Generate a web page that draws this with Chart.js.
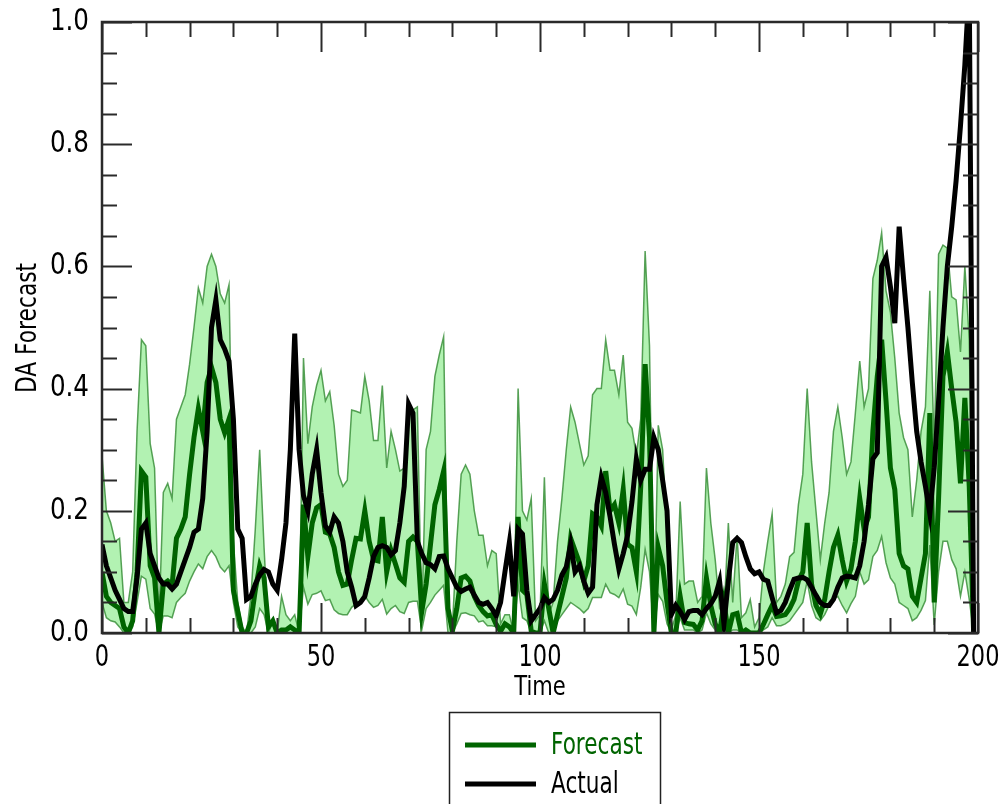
<!DOCTYPE html>
<html>
<head>
<meta charset="utf-8">
<script src="https://cdn.jsdelivr.net/npm/chart.js@4.4.1/dist/chart.umd.min.js"></script>
<style>
  html, body { margin: 0; padding: 0; background: #ffffff; }
  #wrap { width: 1000px; height: 804px; position: relative; }
</style>
</head>
<body>
<div id="wrap"><canvas id="chart" width="1000" height="804"></canvas></div>
<script>
// Time index of the series (0 … 199)
const timeSteps = Array.from({ length: 200 }, (_, i) => i);

// Observed DA values
const actual = [
  0.145, 0.11, 0.09, 0.07, 0.055, 0.04, 0.035, 0.035, 0.09, 0.17,
  0.18, 0.13, 0.11, 0.09, 0.08, 0.08, 0.072, 0.08, 0.1, 0.12,
  0.14, 0.165, 0.17, 0.22, 0.33, 0.5, 0.545, 0.48, 0.465, 0.445,
  0.35, 0.17, 0.155, 0.055, 0.06, 0.08, 0.095, 0.104, 0.1, 0.08,
  0.07, 0.12, 0.18, 0.3, 0.49, 0.3, 0.225, 0.2, 0.26, 0.3,
  0.23, 0.175, 0.165, 0.19, 0.18, 0.15, 0.1, 0.075, 0.045, 0.05,
  0.06, 0.09, 0.125, 0.14, 0.143, 0.14, 0.128, 0.135, 0.18, 0.24,
  0.375, 0.36, 0.15, 0.13, 0.115, 0.112, 0.105, 0.125, 0.126, 0.105,
  0.09, 0.075, 0.068, 0.072, 0.075, 0.062, 0.05, 0.047, 0.05, 0.04,
  0.028, 0.05, 0.1, 0.148, 0.06, 0.17, 0.162, 0.07, 0.02, 0.03,
  0.04, 0.058, 0.05, 0.055, 0.07, 0.095, 0.108, 0.145, 0.1, 0.11,
  0.085, 0.065, 0.075, 0.21, 0.255, 0.23, 0.19, 0.145, 0.105, 0.13,
  0.16, 0.215, 0.285, 0.25, 0.268, 0.268, 0.32, 0.3, 0.25, 0.2,
  0.03, 0.045, 0.035, 0.022, 0.035, 0.037, 0.037, 0.03, 0.04, 0.048,
  0.06, 0.085, 0.015, 0.085, 0.148, 0.155, 0.148, 0.125, 0.105, 0.097,
  0.1, 0.088, 0.085, 0.058, 0.033, 0.037, 0.05, 0.07, 0.088, 0.09,
  0.091, 0.087, 0.075, 0.062, 0.05, 0.045, 0.045, 0.055, 0.075, 0.09,
  0.093, 0.092, 0.09, 0.11, 0.15, 0.21, 0.285, 0.295, 0.6, 0.615,
  0.567, 0.507, 0.665, 0.58, 0.5, 0.41, 0.33, 0.28, 0.24, 0.195,
  0.27, 0.38, 0.5, 0.6, 0.665, 0.74, 0.83, 0.93, 1.06, 0.0
];

// Ensemble-mean forecast
const forecast = [
  0.1, 0.06, 0.05, 0.045, 0.04, 0.01, 0.0, 0.02, 0.1, 0.265,
  0.255, 0.11, 0.09, 0.0, 0.08, 0.085, 0.078, 0.155, 0.17, 0.19,
  0.26, 0.32, 0.367, 0.33, 0.41, 0.435, 0.41, 0.35, 0.328, 0.35,
  0.07, 0.035, 0.0, 0.0, 0.02, 0.07, 0.11, 0.09, 0.01, 0.02,
  0.0, 0.005, 0.005, 0.01, 0.005, 0.0, 0.21, 0.125, 0.18, 0.205,
  0.21, 0.165, 0.162, 0.14, 0.1, 0.078, 0.08, 0.12, 0.155, 0.154,
  0.2, 0.15, 0.12, 0.118, 0.19, 0.1, 0.135, 0.113, 0.09, 0.083,
  0.15, 0.157, 0.15, 0.035, 0.08, 0.145, 0.21, 0.235, 0.265, 0.04,
  0.003, 0.04, 0.09, 0.093, 0.085, 0.06, 0.045, 0.035, 0.028, 0.03,
  0.014, 0.003, 0.015, 0.01, 0.0, 0.19, 0.07, 0.063, 0.003, 0.0,
  0.0, 0.08, 0.04, 0.0, 0.03, 0.06, 0.09, 0.155, 0.135, 0.115,
  0.085, 0.11, 0.195, 0.19, 0.175, 0.265, 0.2, 0.21, 0.18, 0.235,
  0.145, 0.14, 0.1, 0.24, 0.44, 0.32, 0.0, 0.14, 0.11, 0.05,
  0.0, 0.0, 0.06, 0.017, 0.015, 0.014, 0.005, 0.02, 0.09, 0.045,
  0.015, 0.0, 0.05, 0.0, 0.03, 0.032, 0.0, 0.005, 0.0, 0.0,
  0.0, 0.014, 0.03, 0.045, 0.027, 0.028, 0.03, 0.04, 0.055, 0.085,
  0.1, 0.18, 0.08, 0.045, 0.031, 0.055, 0.1, 0.14, 0.16, 0.12,
  0.085, 0.105, 0.15, 0.22, 0.17, 0.19, 0.33, 0.42, 0.48, 0.38,
  0.27, 0.235, 0.13, 0.11, 0.105, 0.06, 0.05, 0.09, 0.13, 0.36,
  0.05, 0.22, 0.42, 0.46, 0.4, 0.345, 0.245, 0.385, 0.24, 0.0
];

// Upper edge of the forecast spread
const upper = [
  0.29, 0.2, 0.18, 0.15, 0.155, 0.05, 0.05, 0.1, 0.33, 0.48,
  0.47, 0.31, 0.27, 0.02, 0.23, 0.245, 0.22, 0.35, 0.37, 0.39,
  0.44, 0.5, 0.565, 0.54, 0.6, 0.62, 0.6, 0.555, 0.54, 0.57,
  0.15, 0.05, 0.01, 0.0, 0.06, 0.17, 0.3, 0.14, 0.0, 0.02,
  0.0, 0.06, 0.03, 0.02, 0.03, 0.0, 0.45, 0.31, 0.37, 0.405,
  0.43, 0.38, 0.395, 0.34, 0.26, 0.24, 0.25, 0.365, 0.363, 0.36,
  0.42, 0.38, 0.315, 0.315, 0.405, 0.27, 0.33, 0.3, 0.265, 0.27,
  0.365, 0.365, 0.37, 0.02, 0.3, 0.33, 0.42, 0.455, 0.485, 0.03,
  0.01, 0.15, 0.26, 0.275, 0.26, 0.2, 0.16, 0.16, 0.11, 0.135,
  0.13, 0.015, 0.03, 0.03, 0.0, 0.4, 0.2, 0.185, 0.22, 0.02,
  0.03, 0.255, 0.03, 0.05, 0.15, 0.22, 0.3, 0.37, 0.345, 0.31,
  0.275, 0.29, 0.39, 0.4, 0.4, 0.48, 0.43, 0.43, 0.39, 0.455,
  0.345, 0.335, 0.29, 0.35, 0.625, 0.47, 0.0, 0.34, 0.3, 0.16,
  0.005, 0.03, 0.215, 0.08, 0.085, 0.085, 0.05, 0.06, 0.27, 0.18,
  0.12, 0.04, 0.03, 0.18, 0.05, 0.16, 0.025, 0.033, 0.055, 0.01,
  0.025, 0.1, 0.15, 0.195, 0.05, 0.06, 0.08, 0.125, 0.132, 0.21,
  0.26, 0.4, 0.28, 0.2, 0.12, 0.18, 0.23, 0.33, 0.37, 0.32,
  0.26, 0.28, 0.36, 0.445, 0.37, 0.4, 0.58, 0.61, 0.655, 0.56,
  0.525, 0.45, 0.36, 0.32, 0.3, 0.19, 0.25, 0.33, 0.37, 0.56,
  0.3, 0.62, 0.635, 0.63, 0.55, 0.545, 0.46, 0.6, 0.48, 0.06
];

// Lower edge of the forecast spread
const lower = [
  0.05, 0.025, 0.02, 0.018, 0.01, 0.0, 0.0, 0.01, 0.05, 0.093,
  0.088, 0.04, 0.031, 0.0, 0.028, 0.028, 0.025, 0.05, 0.058, 0.065,
  0.085, 0.1, 0.113, 0.105, 0.125, 0.135, 0.125, 0.108, 0.1, 0.11,
  0.05, 0.01, 0.0, 0.0, 0.0, 0.01, 0.04, 0.03, 0.0, 0.0,
  0.0, 0.0, 0.0, 0.0, 0.0, 0.0, 0.075, 0.047, 0.063, 0.065,
  0.069, 0.053, 0.055, 0.038, 0.032, 0.03, 0.03, 0.042, 0.048, 0.05,
  0.061, 0.05, 0.042, 0.045, 0.055, 0.031, 0.04, 0.045, 0.035, 0.032,
  0.05, 0.052, 0.052, 0.005, 0.04, 0.05, 0.062, 0.07, 0.078, 0.0,
  0.0, 0.015, 0.032, 0.033, 0.03, 0.028, 0.018, 0.02, 0.012, 0.012,
  0.01, 0.0, 0.0, 0.0, 0.0, 0.08, 0.025, 0.02, 0.0, 0.0,
  0.0, 0.02, 0.0, 0.0, 0.02, 0.03, 0.04, 0.05, 0.045, 0.04,
  0.033, 0.04, 0.058, 0.058, 0.058, 0.08, 0.066, 0.063, 0.058, 0.072,
  0.047, 0.044, 0.03, 0.075, 0.137, 0.1, 0.0, 0.063, 0.052, 0.015,
  0.0, 0.0, 0.025, 0.005, 0.005, 0.005, 0.0, 0.005, 0.033, 0.015,
  0.005, 0.0, 0.01, 0.0, 0.005, 0.005, 0.0, 0.0, 0.0, 0.0,
  0.0, 0.005, 0.01, 0.025, 0.012, 0.012, 0.015, 0.02, 0.03, 0.04,
  0.05, 0.085, 0.045, 0.025, 0.02, 0.03, 0.045, 0.055, 0.06, 0.045,
  0.033, 0.048, 0.06, 0.1, 0.08, 0.087, 0.125, 0.135, 0.158, 0.115,
  0.09, 0.08, 0.05, 0.045, 0.04, 0.02, 0.025, 0.037, 0.053, 0.144,
  0.013, 0.1, 0.15, 0.15, 0.12, 0.105, 0.06, 0.1, 0.055, 0.0
];

// Axis ticks
const xTickValues = [0, 50, 100, 150, 200];
const xTickLabels = ['0', '50', '100', '150', '200'];
const yTickValues = [0, 0.2, 0.4, 0.6, 0.8, 1.0];
const yTickLabels = ['0.0', '0.2', '0.4', '0.6', '0.8', '1.0'];
const xMinorStep = 10;
const yMinorStep = 0.05;

const FOREST = '#006400';
const BAND_FILL = 'rgb(178, 242, 178)';
const BAND_EDGE = 'rgba(60, 145, 60, 0.85)';
const AXIS = '#2a2a2a';
const FONT = '"DejaVu Sans", "Liberation Sans", sans-serif';
const NARROW = 0.75;   // horizontal squeeze applied to the lettering

const toPoints = arr => arr.map((v, i) => ({ x: timeSteps[i], y: v }));

// Draws horizontally narrowed text, optionally rotated
function narrowText(ctx, text, x, y, size, color, align, angle, squeeze) {
  ctx.save();
  ctx.translate(x, y);
  if (angle) ctx.rotate(angle);
  ctx.scale(squeeze || NARROW, 1);
  ctx.font = size + 'px ' + FONT;
  ctx.fillStyle = color;
  ctx.textAlign = align;
  ctx.textBaseline = 'middle';
  ctx.fillText(text, 0, 0);
  ctx.restore();
}

function seg(ctx, x1, y1, x2, y2) {
  ctx.beginPath();
  ctx.moveTo(x1, y1);
  ctx.lineTo(x2, y2);
  ctx.stroke();
}

// Frame, inward ticks, tick labels, axis titles and the boxed legend
const decorations = {
  id: 'decorations',
  afterDatasetsDraw(chart) {
    const { ctx, chartArea: a, scales } = chart;
    const xs = scales.x, ys = scales.y;
    ctx.save();
    ctx.strokeStyle = AXIS;
    ctx.lineWidth = 2;
    ctx.lineCap = 'butt';

    // x ticks, bottom and top
    for (let k = 0; k * xMinorStep <= xs.max + 1e-9; k++) {
      const v = k * xMinorStep;
      const px = Math.round(xs.getPixelForValue(v)) + 0.5;
      const len = xTickValues.includes(v) ? 30 : 15;
      seg(ctx, px, a.bottom, px, a.bottom - len);
      seg(ctx, px, a.top, px, a.top + len);
    }
    // y ticks, left and right
    for (let k = 0; k * yMinorStep <= ys.max + 1e-9; k++) {
      const v = +(k * yMinorStep).toFixed(4);
      const py = Math.round(ys.getPixelForValue(v)) + 0.5;
      const len = (k % 4 === 0) ? 30 : 15;
      seg(ctx, a.left, py, a.left + len, py);
      seg(ctx, a.right, py, a.right - len, py);
    }
    // frame
    ctx.lineWidth = 2.5;
    ctx.strokeRect(a.left, a.top, a.right - a.left, a.bottom - a.top);

    // tick labels
    xTickValues.forEach((v, i) => {
      narrowText(ctx, xTickLabels[i], xs.getPixelForValue(v), a.bottom + 25, 30, '#000', 'center');
    });
    yTickValues.forEach((v, i) => {
      narrowText(ctx, yTickLabels[i], a.left - 13, ys.getPixelForValue(v), 30, '#000', 'right', 0, 0.82);
    });

    // axis titles
    narrowText(ctx, 'Time', (a.left + a.right) / 2, 688, 27, '#000', 'center', 0, 0.78);
    narrowText(ctx, 'DA Forecast', 28, 328, 29, '#000', 'center', -Math.PI / 2);

    // legend
    const ds = chart.data.datasets;
    const entries = [ds[1], ds[0]];   // Forecast, Actual
    ctx.strokeStyle = '#222';
    ctx.lineWidth = 1.5;
    ctx.strokeRect(449.5, 712.5, 211, 120);
    entries.forEach((d, i) => {
      const ly = 745 + i * 39;
      ctx.strokeStyle = d.borderColor;
      ctx.lineWidth = 5;
      seg(ctx, 465, ly, 536, ly);
      narrowText(ctx, d.label, 551, ly + 1, 30, d.legendTextColor, 'left', 0, 0.72);
    });
    ctx.restore();
  }
};

new Chart(document.getElementById('chart'), {
  type: 'line',
  data: {
    datasets: [
      {
        label: 'Actual',
        data: toPoints(actual),
        borderColor: '#000000',
        legendTextColor: '#000000',
        borderWidth: 5,
        pointRadius: 0,
        fill: false,
        tension: 0,
        borderJoinStyle: 'miter'
      },
      {
        label: 'Forecast',
        data: toPoints(forecast),
        borderColor: FOREST,
        legendTextColor: FOREST,
        borderWidth: 5,
        pointRadius: 0,
        fill: false,
        tension: 0,
        borderJoinStyle: 'miter'
      },
      {
        label: 'Lower',
        data: toPoints(lower),
        borderColor: BAND_EDGE,
        borderWidth: 1.5,
        pointRadius: 0,
        fill: false,
        tension: 0
      },
      {
        label: 'Upper',
        data: toPoints(upper),
        borderColor: BAND_EDGE,
        backgroundColor: BAND_FILL,
        borderWidth: 1.5,
        pointRadius: 0,
        fill: '-1',
        tension: 0
      }
    ]
  },
  options: {
    responsive: false,
    animation: false,
    devicePixelRatio: 1,
    layout: { padding: { top: 22, right: 22, bottom: 0, left: 0 } },
    plugins: {
      legend: { display: false },
      tooltip: { enabled: false },
      title: { display: false }
    },
    scales: {
      x: {
        type: 'linear',
        min: 0,
        max: 200,
        grid: { display: false },
        border: { display: false },
        ticks: { display: false },
        afterBuildTicks: s => { s.ticks = xTickValues.map(v => ({ value: v })); },
        afterFit: s => { s.height = 171; }
      },
      y: {
        type: 'linear',
        min: 0,
        max: 1,
        grid: { display: false },
        border: { display: false },
        ticks: { display: false },
        afterBuildTicks: s => { s.ticks = yTickValues.map(v => ({ value: v })); },
        afterFit: s => { s.width = 102; }
      }
    }
  },
  plugins: [decorations]
});
</script>
</body>
</html>
